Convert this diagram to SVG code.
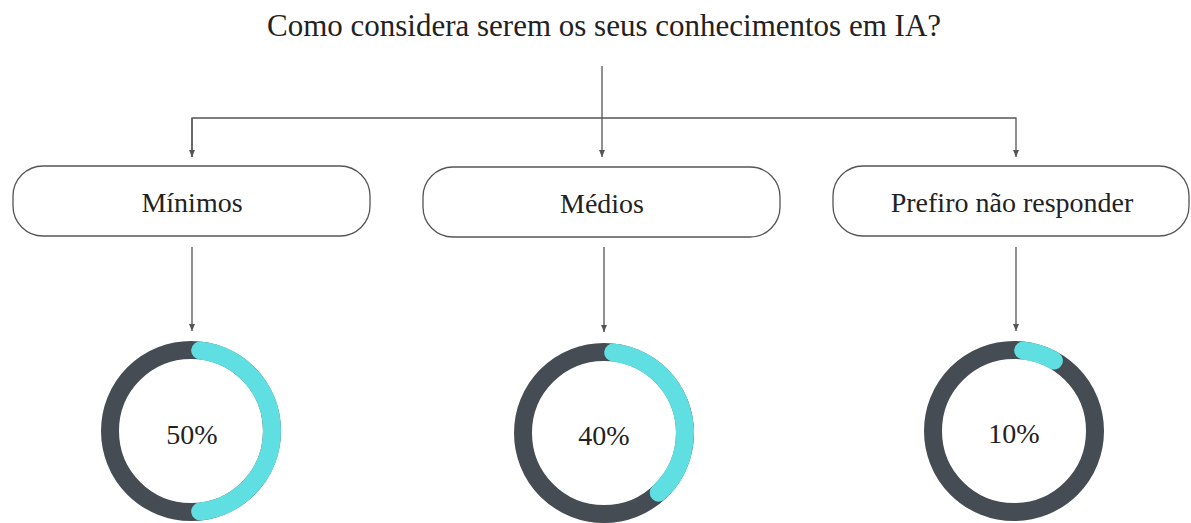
<svg xmlns="http://www.w3.org/2000/svg" width="1191" height="523" viewBox="0 0 1191 523">
<style>
.t{font-family:"Liberation Serif","Times New Roman",serif;fill:#222;text-anchor:middle}
.box{fill:#fff;stroke:#555;stroke-width:1.3}
.ln{fill:none;stroke:#555;stroke-width:1.3}
.ring{fill:none;stroke:#464c53;stroke-width:18}
.arc{fill:none;stroke:#5fdfe2;stroke-width:18;stroke-linecap:round}
</style>
<defs>
<marker id="ah" markerWidth="8" markerHeight="8" refX="7" refY="4" orient="auto" markerUnits="userSpaceOnUse">
<path d="M0,1 L7,4 L0,7 Z" fill="#555"/>
</marker>
</defs>
<rect width="1191" height="523" fill="#fff"/>
<text id="title" class="t" x="604" y="36" font-size="31">Como considera serem os seus conhecimentos em IA?</text>
<g id="connectors">
<line class="ln" x1="602" y1="66" x2="602" y2="157" marker-end="url(#ah)"/>
<polyline class="ln" points="192,157 192,118 1016,118 1016,157" marker-end="url(#ah)"/>
<line class="ln" x1="192" y1="118" x2="192" y2="157" marker-end="url(#ah)"/>
<line class="ln" x1="192" y1="247" x2="192" y2="331" marker-end="url(#ah)"/>
<line class="ln" x1="604" y1="247" x2="604" y2="332" marker-end="url(#ah)"/>
<line class="ln" x1="1016" y1="247" x2="1016" y2="331" marker-end="url(#ah)"/>
</g>
<g id="node-minimos">
<rect class="box" x="13" y="166" width="357" height="70" rx="30"/>
<text class="t" x="192" y="212" font-size="28">Mínimos</text>
</g>
<g id="node-medios">
<rect class="box" x="423" y="167" width="357" height="70" rx="30"/>
<text class="t" x="602" y="213" font-size="28">Médios</text>
</g>
<g id="node-prefiro">
<rect class="box" x="833" y="166" width="356" height="70" rx="30"/>
<text class="t" x="1012" y="212" font-size="28">Prefiro não responder</text>
</g>
<g id="donut-50">
<circle class="ring" cx="191" cy="431" r="81"/>
<path class="arc" d="M200.17,350.52 A81,81 0 0 1 200.17,511.48"/>
<text class="t" x="192" y="444" font-size="28">50%</text>
</g>
<g id="donut-40">
<circle class="ring" cx="604" cy="433" r="81"/>
<path class="arc" d="M613.17,352.52 A81,81 0 0 1 658.72,492.72"/>
<text class="t" x="604" y="445" font-size="28">40%</text>
</g>
<g id="donut-10">
<circle class="ring" cx="1014" cy="431" r="81"/>
<path class="arc" d="M1023.17,350.52 A81,81 0 0 1 1053.88,360.5"/>
<text class="t" x="1014" y="443" font-size="28">10%</text>
</g>
</svg>
